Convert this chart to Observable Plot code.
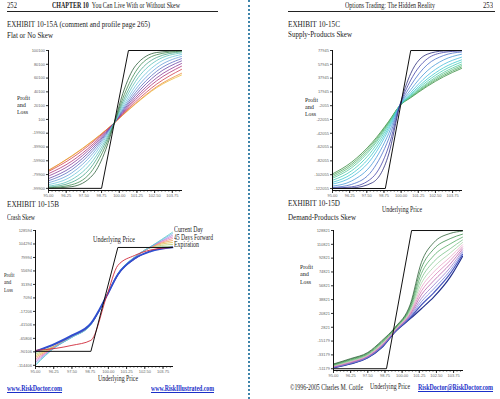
<!DOCTYPE html>
<html><head><meta charset="utf-8">
<script src="https://cdn.jsdelivr.net/npm/d3@7"></script>
<script src="https://cdn.jsdelivr.net/npm/@observablehq/plot@0.6"></script>
<style>
body{margin:0;background:#fff;}
#page{position:relative;width:500px;height:399px;overflow:hidden;background:#fff;font-family:"Liberation Serif","Times New Roman",serif;color:#222;}
.t{position:absolute;white-space:nowrap;line-height:1;transform-origin:0 0;}
.rule{position:absolute;background:#222;height:1px;}
</style></head><body><div id="page"></div>
<script>
// ---------- shared axis labels ----------
const xTicks = [95, 96.25, 97.5, 98.75, 100, 101.25, 102.5, 103.75];
const plLabel = ["Profit", "and", "Loss"];

// ---------- Exhibit 10-15A: Flat or No Skew (values in thousands) ----------
const xA = [95, 96.65, 98.15, 99.05, 99.65, 100.25, 101.15, 102.65, 104.4];
const seriesA = [
  [-99.7, -97.4, -80.1, -43.5, -5, 37.5, 78.0, 97.2, 99.8],
  [-99.2, -94.6, -72.2, -37.2, -5, 30.6, 69.2, 94.0, 99.2],
  [-98.2, -91.0, -65.3, -32.6, -5, 25.6, 61.7, 90.0, 98.2],
  [-96.7, -87.0, -59.4, -29.2, -5, 21.8, 55.2, 85.6, 96.6],
  [-94.5, -82.1, -53.6, -26.1, -5, 18.3, 48.8, 80.3, 94.3],
  [-91.8, -77.4, -48.9, -23.7, -5, 15.7, 43.5, 75.0, 91.5],
  [-88.9, -72.8, -44.9, -21.8, -5, 13.6, 39.1, 70.0, 88.3],
  [-85.8, -68.7, -41.5, -20.3, -5, 11.9, 35.3, 65.4, 85.0],
  [-82.1, -64.3, -38.3, -18.8, -5, 10.2, 31.8, 60.5, 81.2],
  [-78.6, -60.4, -35.6, -17.5, -5, 8.9, 28.8, 56.2, 77.3],
  [-75.4, -56.0, -32.6, -16.3, -5, 7.5, 25.6, 51.4, 72.7],
  [-73.5, -53.2, -30.8, -15.6, -5, 6.6, 23.2, 47.6, 67.0],
  [-74.5, -52.6, -30.3, -15.4, -5, 6.2, 22.4, 46.2, 64.5]
];
const expA = { x: [95, 98.75, 100.65, 104.4], y: [-99.9, -99.9, 100.1, 100.1] };
const yTicksA = [-99900, -79900, -59900, -39900, -19900, 100, 20100, 40100, 60100, 80100, 100100];

// ---------- Exhibit 10-15C: Supply-Products Skew ----------
const xC = [95, 96.4, 97.9, 99.1, 99.9, 100.7, 101.9, 103.1, 104.4];
const seriesC = [
  [-121.9, -121.3, -113.7, -72.0, -2, 44.6, 72.5, 77.2, 77.9],
  [-121.6, -119.7, -106.4, -60.6, -2, 35.0, 65.8, 75.1, 77.4],
  [-120.7, -116.1, -95.8, -49.8, -2, 27.1, 57.3, 70.7, 75.8],
  [-118.6, -111.1, -86.1, -42.2, -2, 21.0, 48.4, 64.3, 72.5],
  [-115.8, -105.3, -77.6, -36.6, -2, 17.0, 41.3, 57.9, 68.2],
  [-113.2, -100.9, -72.0, -33.3, -2, 14.6, 36.6, 53.0, 64.3],
  [-110.2, -96.3, -66.9, -30.4, -2, 13.0, 33.4, 49.4, 61.2],
  [-107.2, -92.0, -62.6, -28.2, -2, 11.8, 30.7, 46.2, 58.2],
  [-105.1, -89.1, -60.0, -26.8, -2, 11.0, 29.0, 43.9, 56.0],
  [-102.9, -86.5, -57.4, -25.6, -2, 10.2, 27.4, 41.8, 53.9],
  [-100.9, -83.8, -55.2, -24.6, -2, 9.5, 25.9, 39.9, 51.9]
];
const expC = { x: [95, 98.85, 100.7, 104.4], y: [-122.1, -122.1, 77.9, 77.9] };
const yTicksC = [-122055, -102055, -82055, -62055, -42055, -22055, -2055, 17945, 37945, 57945, 77945];

// ---------- Exhibit 10-15B: Crash Skew ----------
const xB = [95, 96.4, 97.5, 98.8, 99.9, 100.65, 101.8, 102.9, 104.4];
const fanB = [
  [-91.0, -78.5, -62.0, -39.5, 11.6, 49.0, 79.0, 97.5, 100.0],
  [-94.0, -79.0, -62.5, -39.5, 11.6, 49.0, 79.0, 98.0, 103.5],
  [-97.0, -79.0, -62.5, -40.0, 11.6, 49.0, 79.5, 98.0, 107.0],
  [-100.0, -79.5, -63.0, -40.0, 11.6, 49.5, 79.5, 98.5, 110.5],
  [-103.0, -80.0, -63.0, -40.5, 11.6, 49.5, 80.0, 98.5, 114.0],
  [-106.0, -80.0, -63.5, -40.5, 11.6, 50.0, 80.0, 99.0, 117.0],
  [-109.0, -80.5, -63.5, -41.0, 11.6, 50.0, 80.5, 99.0, 120.0],
  [-112.0, -81.0, -64.0, -41.0, 11.6, 50.5, 80.5, 99.5, 123.0],
  [-114.5, -81.0, -64.0, -41.5, 11.6, 50.5, 81.0, 99.5, 125.5]
];
const purpleB = [-88.5, -76.0, -61.5, -40.0, 11.0, 48.0, 77.0, 91.5, 98.5];
const blueB = [-89.2, -74.8, -60.4, -38.8, 11.6, 49.4, 78.2, 91.0, 98.0];
const redB = [-87.4, -83.8, -78.4, -69.4, 11.6, 65.6, 83.6, 93.5, 98.0];
const expB = { x: [95, 98.8, 100.65, 104.4], y: [-89.2, -89.2, 98.0, 98.0] };
const yTicksB = [-114406, -90106, -65806, -41506, -17206, 7094, 31394, 55694, 79994, 104294, 128594];
const legendB = ["Current Day", "45 Days Forward", "Expiration"];

// ---------- Exhibit 10-15D: Demand-Products Skew ----------
const xD = [95, 96.25, 97.5, 98.5, 99.5, 100.6, 101.4, 102.3, 103.5, 104.4];
const seriesD = [
  [-45.0, -38.0, -30.0, -15.0, 3.0, 33.0, 87.0, 113.0, 125.0, 128.0],
  [-45.6, -38.8, -30.8, -16.1, 2.3, 30.7, 79.8, 104.5, 118.2, 124.0],
  [-46.2, -39.7, -31.7, -17.2, 1.6, 28.4, 72.6, 96.0, 111.3, 120.1],
  [-46.8, -40.5, -32.5, -18.2, 0.9, 26.4, 66.0, 88.2, 105.0, 116.5],
  [-47.3, -41.2, -33.2, -19.1, 0.3, 24.5, 60.0, 81.1, 99.4, 113.2],
  [-47.7, -41.8, -33.8, -19.9, -0.2, 22.7, 54.6, 74.7, 94.2, 110.2],
  [-48.1, -42.3, -34.3, -20.6, -0.7, 21.2, 49.8, 69.0, 89.7, 107.5],
  [-48.5, -42.9, -34.9, -21.3, -1.2, 19.7, 45.0, 63.3, 85.1, 104.9],
  [-48.9, -43.5, -35.5, -22.0, -1.7, 18.2, 40.2, 57.6, 80.5, 102.3],
  [-49.3, -44.0, -36.0, -22.7, -2.1, 16.9, 36.0, 52.7, 76.6, 100.0],
  [-49.6, -44.4, -36.4, -23.3, -2.5, 15.5, 31.8, 47.7, 72.6, 97.6],
  [-50.0, -45.0, -37.0, -24.0, -3.0, 14.0, 27.0, 42.0, 68.0, 95.0]
];
const expD = { x: [95, 98.86, 100.69, 104.4], y: [-51.2, -51.2, 128.8, 128.8] };
const yTicksD = [-51179, -33179, -15179, 2821, 20821, 38821, 56821, 74821, 92821, 110821, 128821];

// ---------- styles ----------
const colorsA = ["#2d5e3a","#3f8a50","#4aa58a","#5cc0b8","#6cc4dc","#6aa0d8","#5a6cc0","#6a48a8","#8e3c98","#b03478","#d04050","#e88a3a","#f0c040"];
const colorsC = ["#2a2a78","#4444a8","#4a6ec8","#4a9ad8","#46bcdc","#3ecacc","#44ccb4","#52c69a","#5cbc7a","#4aa45c","#3a8c40"];
const colorsFanB = ["#8ab88a","#b4cc6c","#dcc050","#f0a050","#f08a8a","#e078c8","#a88ae0","#78b4ea","#60d0cc"];
const colorsD = ["#2e6238","#3c8c4c","#56ac66","#7cc48a","#a8d4a8","#e8a8c8","#d880b8","#b860a8","#9a78cc","#7280d8","#4a58c0","#22308c"];

const page = document.getElementById("page");
const minorTicks = d3.range(95, 104.45, 0.25);

function toRows(xs, ys) { return ys.map((v, j) => ({ x: xs[j], y: v * 1000 })); }

function makeChart(cfg) {
  const ml = 34, mr = 4, mt = 4, mb = 14;
  const f = cfg.frame;
  const W = f.right - f.left + ml + mr, H = f.bottom - f.top + mt + mb;
  const lines = cfg.lines.map(L => Plot.line(toRows(L.xs, L.ys), {
    x: "x", y: "y", stroke: L.color, strokeWidth: L.width || 0.8, curve: L.curve || "monotone-x"
  }));
  const svg = Plot.plot({
    width: W, height: H, marginLeft: ml, marginRight: mr, marginTop: mt, marginBottom: mb,
    style: { fontFamily: "Liberation Sans, sans-serif", fontSize: "4px", color: "#555", background: "transparent", overflow: "visible" },
    x: { domain: [95, 104.4], label: null },
    y: { domain: cfg.yDomain, label: null },
    marks: [
      ...lines,
      Plot.line(toRows(cfg.exp.x, cfg.exp.y), { x: "x", y: "y", stroke: "#111", strokeWidth: 1 }),
      Plot.axisY({ ticks: cfg.yTicks, tickFormat: d => String(d), tickSize: 2, tickPadding: 1.5, label: null, fontSize: 4, fill: "#666", stroke: "#333" }),
      Plot.axisX({ ticks: minorTicks, tickFormat: () => "", tickSize: 1.5, label: null, stroke: "#333" }),
      Plot.axisX({ ticks: xTicks, tickFormat: d3.format(".2f"), tickSize: 3, tickPadding: 1, label: null, fontSize: 4, fill: "#666", stroke: "#333" }),
      Plot.frame({ anchor: "left", stroke: "#111" }),
      Plot.frame({ anchor: "bottom", stroke: "#111" })
    ]
  });
  svg.style.position = "absolute";
  svg.style.left = (f.left - ml) + "px";
  svg.style.top = (f.top - mt) + "px";
  page.appendChild(svg);
}

makeChart({
  frame: { left: 48, right: 181, top: 50, bottom: 190 },
  yDomain: [-103000, 100100], yTicks: yTicksA, exp: expA,
  lines: seriesA.map((ys, i) => ({ xs: xA, ys, color: colorsA[i] })).reverse()
});
makeChart({
  frame: { left: 332, right: 461, top: 50, bottom: 190 },
  yDomain: [-125000, 77945], yTicks: yTicksC, exp: expC,
  lines: seriesC.map((ys, i) => ({ xs: xC, ys, color: colorsC[i] })).reverse()
});
makeChart({
  frame: { left: 35, right: 172, top: 230, bottom: 366 },
  yDomain: [-116500, 128594], yTicks: yTicksB, exp: expB,
  lines: [
    ...fanB.map((ys, i) => ({ xs: xB, ys, color: colorsFanB[i] })),
    { xs: xB, ys: purpleB, color: "#7a3a9a", width: 1 },
    { xs: xB, ys: blueB, color: "#2f4fd0", width: 1.8 },
    { xs: xB, ys: redB, color: "#d02a3a", width: 0.9 }
  ]
});
makeChart({
  frame: { left: 333, right: 462, top: 230, bottom: 370 },
  yDomain: [-53500, 128821], yTicks: yTicksD, exp: expD,
  lines: seriesD.map((ys, i) => ({ xs: xD, ys, color: colorsD[i], width: i >= 10 ? 1.2 : 0.8 })).reverse()
});

// ---------- text ----------
function T(html, x, cy, size, w, extra) {
  const d = document.createElement("div");
  d.className = "t";
  d.innerHTML = html;
  d.style.fontSize = size + "px";
  d.style.left = x + "px";
  d.style.top = (cy - size * 0.55) + "px";
  if (extra) Object.assign(d.style, extra);
  page.appendChild(d);
  if (w) {
    const nw = d.getBoundingClientRect().width;
    d.style.transform = `scaleX(${w / nw})`;
  }
  return d;
}
function rule(x, y, w) {
  const d = document.createElement("div");
  d.className = "rule"; d.style.left = x + "px"; d.style.top = y + "px"; d.style.width = w + "px";
  page.appendChild(d);
}

// headers
T("252", 7, 6.5, 8, 10);
T("<b>CHAPTER 10</b>&nbsp;&nbsp;You Can Live With or Without Skew", 52, 6.5, 7.5, 128);
rule(7, 11, 211);
T("Options Trading: The Hidden Reality", 345, 6.5, 7.5, 90);
T("253", 483, 6.5, 8, 10);
rule(288, 11, 207);

// exhibit titles
T("EXHIBIT 10-15A (comment and profile page 265)", 7, 25, 9, 143);
T("Flat or No Skew", 7, 35.5, 8.5, 46);
T("EXHIBIT 10-15C", 288, 24.5, 9, 52);
T("Supply-Products Skew", 288, 34.5, 8.5, 64);
T("EXHIBIT 10-15B", 7, 205, 9, 52);
T("Crash Skew", 7, 218, 8.5, 28);
T("EXHIBIT 10-15D", 288, 204, 9, 52);
T("Demand-Products Skew", 288, 218, 8.5, 68);

// profit and loss labels
[[17, 98.5, 1], [305, 100.5, 1], [4, 276, 0.8], [300, 268, 1]].forEach(([x, cy, s]) => {
  plLabel.forEach((txt, k) => T(txt, x, cy + k * 7.2, 6.8, s * [13, 9, 11][k]));
});

// axis titles
T("Underlying Price", 382, 210, 7.5, 40);
T("Underlying Price", 93, 240, 7.5, 42);
T("Underlying Price", 98, 379.5, 7.5, 40);
T("Underlying Price", 370, 387, 7.5, 40);

// legend (crash skew)
legendB.forEach((s, k) => T(s, 174, 231 + k * 7.5, 7.2, [29, 39, 25][k]));

// footers
const link = { color: "#1a2fc8", textDecoration: "underline", fontWeight: "bold" };
T("www.RiskDoctor.com", 7, 389, 7.5, 55, link);
T("www.RiskIllustrated.com", 151, 389, 7.5, 63, link);
T("©1996-2005 Charles M. Cottle", 290, 388.5, 7.5, 73);
T("RiskDoctor@RiskDoctor.com", 418, 388.5, 7.5, 75, link);

// page gutter (dotted)
const g = document.createElement("div");
Object.assign(g.style, { position: "absolute", left: "248px", top: "0px", width: "0px", height: "399px", borderLeft: "2px dotted #3f84aa" });
page.appendChild(g);
</script></body></html>
